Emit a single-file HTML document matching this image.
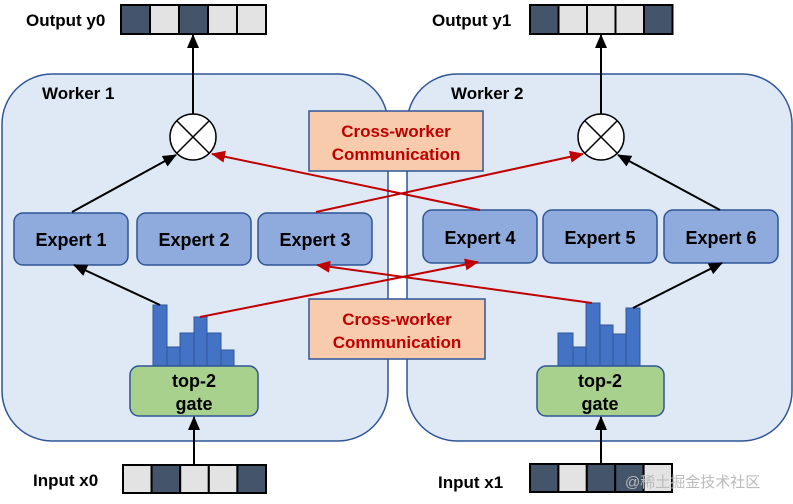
<!DOCTYPE html>
<html><head><meta charset="utf-8"><style>
html,body{margin:0;padding:0;background:#fff;}
svg{display:block;font-family:"Liberation Sans",Arial,sans-serif;font-weight:bold;}
</style></head><body>
<svg width="793" height="504" viewBox="0 0 793 504" xmlns="http://www.w3.org/2000/svg">
<defs>
<marker id="ab" markerWidth="14" markerHeight="12" refX="13" refY="6" orient="auto" markerUnits="userSpaceOnUse"><path d="M0,0 L14,6 L0,12 z" fill="#000"/></marker>
<marker id="ar" markerWidth="14" markerHeight="12" refX="13" refY="6" orient="auto" markerUnits="userSpaceOnUse"><path d="M0,0 L14,6 L0,12 z" fill="#c00000"/></marker>
</defs>
<rect x="2" y="74" width="386" height="367" rx="50" fill="#dfe9f5" stroke="#2f5597" stroke-width="1.5"/>
<rect x="407" y="74" width="385" height="367" rx="50" fill="#dfe9f5" stroke="#2f5597" stroke-width="1.5"/>
<text x="42" y="99" font-size="17">Worker 1</text>
<text x="451" y="99" font-size="17">Worker 2</text>
<text x="26" y="26" font-size="17">Output y0</text>
<g stroke="#000" stroke-width="2">
<rect x="121" y="5" width="29" height="29" fill="#44546a"/><rect x="150" y="5" width="29" height="29" fill="#e3e3e3"/><rect x="179" y="5" width="29" height="29" fill="#44546a"/><rect x="208" y="5" width="29" height="29" fill="#e3e3e3"/><rect x="237" y="5" width="29" height="29" fill="#e3e3e3"/>
</g>
<text x="432" y="26" font-size="17">Output y1</text>
<g stroke="#000" stroke-width="2">
<rect x="530" y="5" width="28.5" height="29" fill="#44546a"/><rect x="558.5" y="5" width="28.5" height="29" fill="#e3e3e3"/><rect x="587" y="5" width="28.5" height="29" fill="#e3e3e3"/><rect x="615.5" y="5" width="28.5" height="29" fill="#e3e3e3"/><rect x="644" y="5" width="28.5" height="29" fill="#44546a"/>
</g>
<text x="33" y="486" font-size="17">Input x0</text>
<g stroke="#000" stroke-width="2">
<rect x="123" y="465" width="28.6" height="28" fill="#e3e3e3"/><rect x="151.6" y="465" width="28.6" height="28" fill="#44546a"/><rect x="180.2" y="465" width="28.6" height="28" fill="#e3e3e3"/><rect x="208.8" y="465" width="28.6" height="28" fill="#e3e3e3"/><rect x="237.4" y="465" width="28.6" height="28" fill="#44546a"/>
</g>
<text x="438" y="488" font-size="17">Input x1</text>
<g stroke="#000" stroke-width="2">
<rect x="530" y="464" width="28.4" height="28" fill="#44546a"/><rect x="558.4" y="464" width="28.4" height="28" fill="#e3e3e3"/><rect x="586.8" y="464" width="28.4" height="28" fill="#44546a"/><rect x="615.2" y="464" width="28.4" height="28" fill="#44546a"/><rect x="643.6" y="464" width="28.4" height="28" fill="#e3e3e3"/>
</g>
<text x="625" y="487" font-size="15" font-weight="normal" fill="#bbb" font-family="'Liberation Sans','Noto Sans CJK SC',sans-serif">@稀土掘金技术社区</text>
<g fill="#8faadc" stroke="#2f5597" stroke-width="1.5">
<rect x="14" y="213" width="114" height="52" rx="9"/><rect x="137" y="213" width="114" height="52" rx="9"/><rect x="258" y="213" width="114" height="52" rx="9"/>
<rect x="423" y="210" width="114" height="53" rx="9"/><rect x="543" y="210" width="114" height="53" rx="9"/><rect x="664" y="210" width="114" height="53" rx="9"/>
</g>
<g font-size="18" fill="#000" text-anchor="middle">
<text x="71" y="246">Expert 1</text><text x="194" y="246">Expert 2</text><text x="315" y="246">Expert 3</text>
<text x="480" y="244">Expert 4</text><text x="600" y="244">Expert 5</text><text x="721" y="244">Expert 6</text>
</g>
<rect x="309" y="111" width="174" height="60" fill="#f8cbad" stroke="#2f5597" stroke-width="1.5"/>
<rect x="309" y="299" width="176" height="60" fill="#f8cbad" stroke="#2f5597" stroke-width="1.5"/>
<g font-size="17" fill="#c00000" text-anchor="middle">
<text x="396" y="137">Cross-worker</text><text x="396" y="160">Communication</text>
<text x="397" y="325">Cross-worker</text><text x="397" y="348">Communication</text>
</g>
<g fill="#4472c4" stroke="#2f5597" stroke-width="1">
<rect x="153" y="305" width="14" height="61"/><rect x="167" y="347" width="13" height="19"/><rect x="180" y="333" width="14" height="33"/><rect x="194" y="317" width="13" height="49"/><rect x="207" y="333" width="14" height="33"/><rect x="221" y="350" width="13" height="16"/>
<rect x="558" y="333" width="15" height="33"/><rect x="573" y="347" width="13" height="19"/><rect x="586" y="303" width="14" height="63"/><rect x="600" y="325" width="13" height="41"/><rect x="613" y="334" width="13" height="32"/><rect x="626" y="308" width="14" height="58"/>
</g>
<rect x="130" y="366" width="128" height="50" rx="9" fill="#a9d18e" stroke="#2f5597" stroke-width="1.5"/>
<rect x="537" y="366" width="127" height="50" rx="9" fill="#a9d18e" stroke="#2f5597" stroke-width="1.5"/>
<g font-size="18" text-anchor="middle">
<text x="194" y="387">top-2</text><text x="194" y="410">gate</text>
<text x="600" y="387">top-2</text><text x="600" y="410">gate</text>
</g>
<g stroke="#000" stroke-width="1.5" fill="#fff">
<circle cx="193" cy="137" r="23"/><line x1="177" y1="121" x2="209" y2="153"/><line x1="209" y1="121" x2="177" y2="153"/>
<circle cx="601" cy="137" r="23"/><line x1="585" y1="121" x2="617" y2="153"/><line x1="617" y1="121" x2="585" y2="153"/>
</g>
<g stroke="#000" stroke-width="2" fill="none" marker-end="url(#ab)">
<line x1="193" y1="114" x2="193" y2="35"/>
<line x1="601" y1="114" x2="601" y2="35"/>
<line x1="194" y1="464" x2="194" y2="417"/>
<line x1="601" y1="463" x2="601" y2="417"/>
<line x1="72" y1="212" x2="176" y2="155"/>
<line x1="720" y1="210" x2="618" y2="155"/>
<line x1="160" y1="305" x2="74" y2="265"/>
<line x1="633" y1="308" x2="722" y2="263"/>
</g>
<g stroke="#c00000" stroke-width="2" fill="none" marker-end="url(#ar)">
<line x1="480" y1="210" x2="212" y2="154"/>
<line x1="316" y1="212" x2="583" y2="154"/>
<line x1="200" y1="317" x2="478" y2="262"/>
<line x1="592" y1="303" x2="317" y2="265"/>
</g>
</svg>
</body></html>
